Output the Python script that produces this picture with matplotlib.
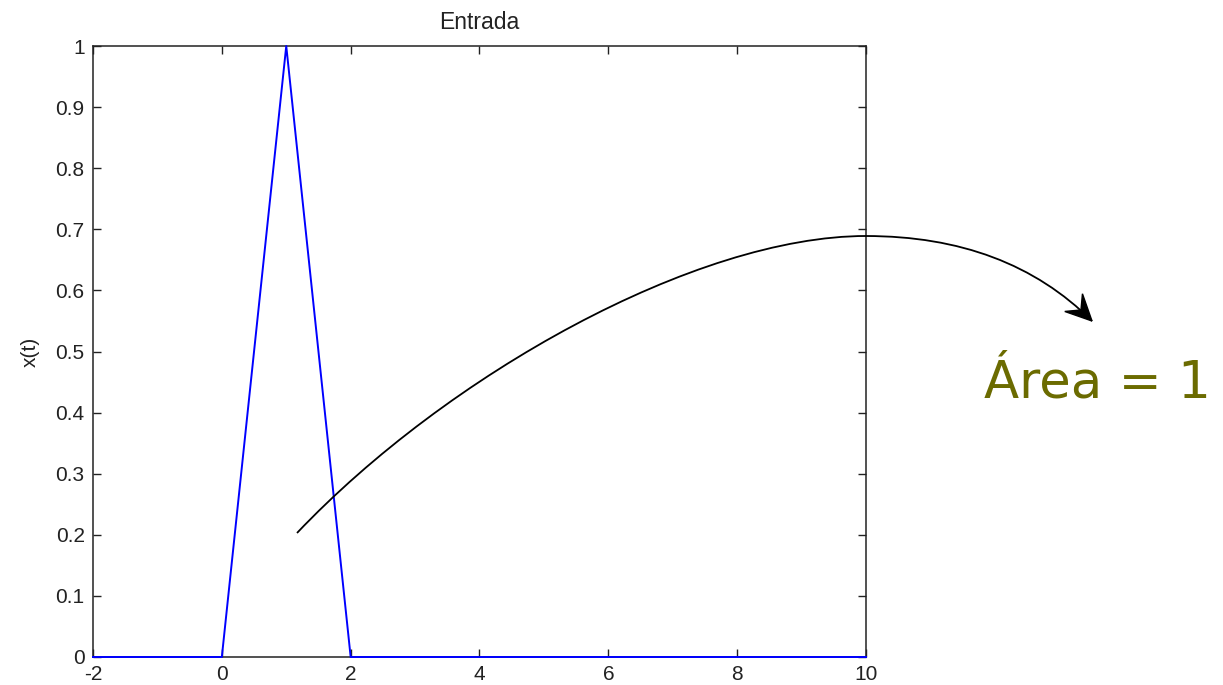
import numpy as np
import matplotlib.pyplot as plt
from matplotlib.path import Path
from matplotlib.patches import PathPatch, Polygon

# triangle input x(t)
t = [-2, 0, 1, 2, 10]
x = [0, 0, 1, 0, 0]

x_ticks = [-2, 0, 2, 4, 6, 8, 10]
y_ticks = [0, 0.1, 0.2, 0.3, 0.4, 0.5, 0.6, 0.7, 0.8, 0.9, 1]
y_tick_labels = ["0", "0.1", "0.2", "0.3", "0.4", "0.5", "0.6", "0.7", "0.8", "0.9", "1"]

W, H = 1223, 685
fig = plt.figure(figsize=(W / 100, H / 100), dpi=100)
ax = fig.add_axes([93 / W, 1 - 657 / H, (866 - 93) / W, (657 - 46) / H])

ax.plot(t, x, color=(0, 0, 1), lw=1.4, clip_on=False, zorder=5)
ax.set_xlim(-2, 10)
ax.set_ylim(0, 1)
ax.set_xticks(x_ticks)
ax.set_xticklabels([str(v) for v in x_ticks])
ax.set_yticks(y_ticks)
ax.set_yticklabels(y_tick_labels)

font = ['Liberation Sans', 'DejaVu Sans']
for lab in ax.get_xticklabels() + ax.get_yticklabels():
    lab.set_family(font)
    lab.set_fontsize(15)
    lab.set_color('#222222')
ax.tick_params(direction='in', length=6, width=1.0, top=True, right=True,
               colors='#222222', pad=6)
for s in ax.spines.values():
    s.set_linewidth(1.1)
    s.set_color('#222222')

ax.set_title("Entrada", family=font, fontsize=16.5, pad=12, color='#222222')
ax.set_ylabel("x(t)", family=font, fontsize=15, color='#222222')
ax.yaxis.set_label_coords((40 - 93) / (866 - 93), 0.5)


# annotation arrow, positions given in figure pixels (top-left origin)
def fp(px, py):
    return (px / W, 1 - py / H)


start = (297, 533)
peak = (866, 236)
tip = (1092, 321)
c1 = (447, 375)
c2 = (696, 236)
c3 = (1007, 236)

verts = [fp(*start), fp(*c1), fp(*c2), fp(*peak), fp(*c3), fp(*tip)]
codes = [Path.MOVETO, Path.CURVE4, Path.CURVE4, Path.CURVE4, Path.CURVE3, Path.CURVE3]
fig.add_artist(PathPatch(Path(verts, codes), fill=False, lw=1.3, color='black',
                         transform=fig.transFigure))

u = np.array(tip, float) - np.array(c3, float)
u /= np.hypot(*u)
n = np.array([-u[1], u[0]])
L, w = 26, 12.5
T = np.array(tip, float)
b1 = T - L * u + w * n
b2 = T - L * u - w * n
notch = T - 0.6 * L * u
head = [fp(*T), fp(*b1), fp(*notch), fp(*b2)]
fig.add_artist(Polygon(head, closed=True, color='black', transform=fig.transFigure))

fig.text(984 / W, 1 - 397 / H, "Área = 1", color='#6B6B00', fontsize=37,
         family='DejaVu Sans', ha='left', va='baseline')

fig.savefig("out.png", dpi=100)
